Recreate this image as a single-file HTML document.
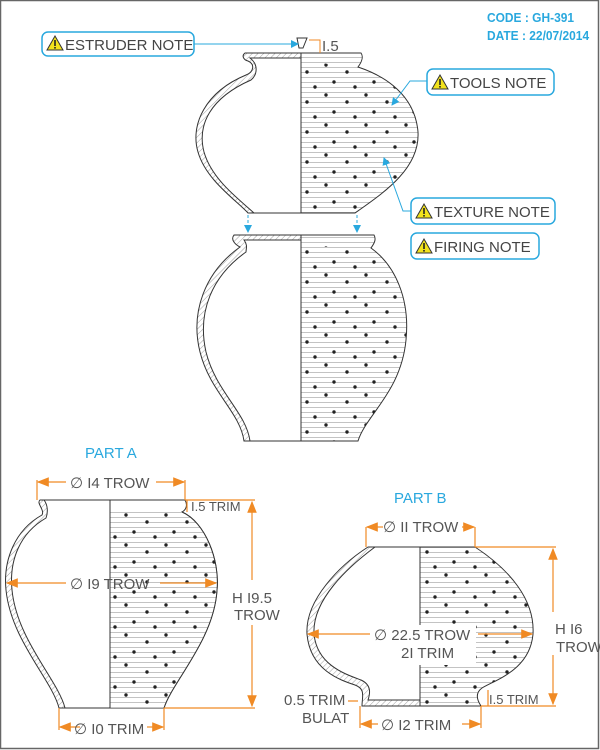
<!DOCTYPE html>
<html><head><meta charset="utf-8"><style>
html,body{margin:0;padding:0;background:#fff}
svg{display:block}
text{font-family:"Liberation Sans",sans-serif}
.dim{fill:#555;font-size:15px}
.note{fill:#444;font-size:15px}
</style></head><body>
<svg width="600" height="750" viewBox="0 0 600 750">
<defs>
<pattern id="hl" width="12" height="5" patternUnits="userSpaceOnUse"><rect width="12" height="5" fill="#fff"/><line x1="0" y1="2.5" x2="12" y2="2.5" stroke="#aaa" stroke-width="0.7"/></pattern>
<pattern id="dots" width="40" height="30" patternUnits="userSpaceOnUse"><circle cx="6" cy="5" r="1.7" fill="#222"/><circle cx="27" cy="12" r="1.7" fill="#222"/><circle cx="14" cy="22" r="1.7" fill="#222"/><circle cx="35" cy="27" r="1.7" fill="#222"/></pattern>
<pattern id="wh" width="4" height="4" patternUnits="userSpaceOnUse" patternTransform="rotate(45)"><rect width="4" height="4" fill="#fff"/><line x1="0" y1="0" x2="0" y2="4" stroke="#888" stroke-width="0.8"/></pattern>
<marker id="ab" markerWidth="8" markerHeight="8" refX="7" refY="4" orient="auto"><path d="M0,0L8,4L0,8z" fill="#29a8de"/></marker>
<marker id="ao" markerWidth="10" markerHeight="8" refX="9" refY="4" orient="auto"><path d="M0,0L10,4L0,8z" fill="#f08a24"/></marker>
<g id="warn"><path d="M0,14L8,0L16,14z" fill="#f2e21c" stroke="#333" stroke-width="1"/><rect x="7.2" y="4" width="1.6" height="6" fill="#222"/><rect x="7.2" y="11" width="1.6" height="1.6" fill="#222"/></g>
</defs>
<rect x="0.5" y="0.5" width="598" height="748" fill="#fff" stroke="#666" stroke-width="1.5"/>
<text x="487" y="22" fill="#29a8de" font-size="13" font-weight="bold" transform="translate(487 0) scale(0.92 1) translate(-487 0)">CODE : GH-391</text>
<text x="487" y="40" fill="#29a8de" font-size="13" font-weight="bold" transform="translate(487 0) scale(0.92 1) translate(-487 0)">DATE : 22/07/2014</text>

<g stroke="#333" stroke-width="1">
<path d="M301,53 L245,53 C241,56 244,60 248,61 C255,64 254,72 246,75 C205,92 190,125 198,152 C206,180 236,200 248,213 L301,213 Z" fill="url(#wh)"/>
<path d="M301,58 L250,58 C258,64 258,74 251,80 C210,98 197,125 204,152 C212,180 240,200 254,213 L301,213 Z" fill="#fff"/>
<path d="M301,53 L361,53 C364,57 361,63 358,67 C385,76 415,95 418,132 C420,168 385,192 355,213 L301,213 Z" fill="url(#hl)"/>
<path d="M301,60 L356,68 C385,76 415,95 418,132 C420,168 385,192 355,213 L301,213 Z" fill="url(#dots)" stroke="none"/>
<line x1="301" y1="53" x2="301" y2="213"/>
<line x1="248" y1="213" x2="355" y2="213"/>
</g>
<g stroke="#333" stroke-width="1">
<path d="M301,235 L234,235 C230,240 236,245 240,247 C205,272 190,312 200,352 C210,392 240,412 244,441 L301,441 Z" fill="url(#wh)"/>
<path d="M301,240 L244,240 C248,245 246,249 246,252 C212,276 197,312 206,352 C216,392 246,412 250,441 L301,441 Z" fill="#fff"/>
<path d="M301,235 L374,235 C377,240 373,245 371,248 C396,266 410,300 406,340 C401,392 366,415 358,441 L301,441 Z" fill="url(#hl)"/>
<path d="M301,245 L371,248 C396,266 410,300 406,340 C401,392 366,415 358,441 L301,441 Z" fill="url(#dots)" stroke="none"/>
<line x1="301" y1="235" x2="301" y2="441"/>
</g>
<line x1="248" y1="215" x2="248" y2="232" stroke="#29a8de" stroke-dasharray="3,2" marker-end="url(#ab)"/>
<line x1="357" y1="215" x2="357" y2="232" stroke="#29a8de" stroke-dasharray="3,2" marker-end="url(#ab)"/>
<path d="M303,48 L307,38 L297,38 L299,48 Z" fill="#fff" stroke="#333"/>
<path d="M309,40 L320,40 L320,53" fill="none" stroke="#f08a24"/>
<text x="322" y="51" class="dim">I.5</text>

<g>
<rect x="42" y="32" width="152" height="24" rx="6" fill="#fff" stroke="#29a8de" stroke-width="1.5"/>
<use href="#warn" x="47" y="36"/><text x="65" y="50" class="note">ESTRUDER NOTE</text>
</g>
<path d="M194,44 L298,44" stroke="#29a8de" fill="none" marker-end="url(#ab)"/>
<g>
<rect x="427" y="69" width="127" height="26" rx="6" fill="#fff" stroke="#29a8de" stroke-width="1.5"/>
<use href="#warn" x="432" y="75"/><text x="450" y="88" class="note">TOOLS NOTE</text>
</g>
<path d="M427,81 L410,81 L392,105" stroke="#29a8de" fill="none" marker-end="url(#ab)"/>
<g>
<rect x="411" y="198" width="144" height="26" rx="6" fill="#fff" stroke="#29a8de" stroke-width="1.5"/>
<use href="#warn" x="416" y="204"/><text x="434" y="217" class="note">TEXTURE NOTE</text>
</g>
<path d="M411,211 L403,211 L384,158" stroke="#29a8de" fill="none" marker-end="url(#ab)"/>
<g>
<rect x="411" y="233" width="128" height="26" rx="6" fill="#fff" stroke="#29a8de" stroke-width="1.5"/>
<use href="#warn" x="416" y="239"/><text x="434" y="252" class="note">FIRING NOTE</text>
</g>

<text x="85" y="458" fill="#29a8de" font-size="15">PART A</text>
<g stroke="#333" stroke-width="1">
<path d="M110,500 L40,500 C36,503 45,510 42,515 C15,530 3,560 6,590 C11,640 52,680 59,708 L110,708 Z" fill="url(#wh)"/>
<path d="M110,500 L44,500 C48,505 48,513 46,518 C20,533 9,560 12,590 C17,640 58,680 65,708 L110,708 Z" fill="#fff"/>
<path d="M110,500 L185,500 C188,505 186,510 182,512 C205,522 220,560 217,590 C214,640 172,682 164,708 L110,708 Z" fill="#fff"/>
<path d="M110,512 L182,512 C205,522 220,560 217,590 C214,640 172,682 164,708 L110,708 Z" fill="url(#hl)" stroke="none"/>
<path d="M110,512 L182,512 C205,522 220,560 217,590 C214,640 172,682 164,708 L110,708 Z" fill="url(#dots)" stroke="none"/>
<path d="M182,512 C205,522 220,560 217,590 C214,640 172,682 164,708" fill="none"/>
<line x1="110" y1="500" x2="110" y2="708"/>
</g>
<g stroke="#f08a24" stroke-width="1.2" fill="none">
<path d="M37,500 L37,480 M185,500 L185,480"/>
<line x1="66" y1="482" x2="38" y2="482" marker-end="url(#ao)"/><line x1="156" y1="482" x2="184" y2="482" marker-end="url(#ao)"/>
<line x1="66" y1="583" x2="7" y2="583" marker-end="url(#ao)"/><line x1="160" y1="583" x2="216" y2="583" marker-end="url(#ao)"/>
<path d="M59,708 L59,730 M164,708 L164,730 M164,708 L255,708 M185,500 L255,500 M187,500 L187,512"/>
<line x1="80" y1="727" x2="60" y2="727" marker-end="url(#ao)"/><line x1="147" y1="727" x2="163" y2="727" marker-end="url(#ao)"/>
<line x1="252" y1="580" x2="252" y2="502" marker-end="url(#ao)"/><line x1="252" y1="625" x2="252" y2="706" marker-end="url(#ao)"/>
</g>
<text x="70" y="488" class="dim">∅ I4 TROW</text>
<text x="191" y="511" fill="#555" font-size="13">I.5 TRIM</text>
<text x="70" y="589" class="dim">∅ I9 TROW</text>
<text x="232" y="603" class="dim">H I9.5</text>
<text x="234" y="620" class="dim">TROW</text>
<text x="74" y="734" class="dim">∅ I0 TRIM</text>

<text x="394" y="503" fill="#29a8de" font-size="15">PART B</text>
<g stroke="#333" stroke-width="1">
<path d="M420,547 L368,547 C340,565 305,600 307,634 C310,670 340,680 355,685 C366,689 362,697 362,706 L420,706 Z" fill="url(#wh)"/>
<path d="M420,547 L375,547 C348,567 312,600 314,634 C317,665 345,674 361,680 C372,685 370,694 368,700 L420,700 Z" fill="#fff"/>
<path d="M420,547 L475,547 C510,570 535,600 533,634 C530,670 495,680 482,688 C475,693 477,700 481,706 L420,706 Z" fill="url(#hl)"/>
<path d="M420,550 L475,547 C510,570 535,600 533,634 C530,670 495,680 482,688 C475,693 477,700 481,706 L420,706 Z" fill="url(#dots)" stroke="none"/>
<line x1="420" y1="547" x2="420" y2="706"/>
</g>
<rect x="376" y="625" width="100" height="40" fill="#fff"/>
<g stroke="#f08a24" stroke-width="1.2" fill="none">
<path d="M366,547 L366,527 M475,547 L475,527 M475,547 L556,547 M481,706 L556,706 M488,690 L488,706"/>
<line x1="383" y1="527" x2="367" y2="527" marker-end="url(#ao)"/><line x1="462" y1="527" x2="474" y2="527" marker-end="url(#ao)"/>
<line x1="370" y1="634" x2="308" y2="634" marker-end="url(#ao)"/><line x1="478" y1="634" x2="532" y2="634" marker-end="url(#ao)"/>
<line x1="553" y1="612" x2="553" y2="549" marker-end="url(#ao)"/><line x1="553" y1="655" x2="553" y2="704" marker-end="url(#ao)"/>
<path d="M360,706 L360,728 M481,706 L481,728 M348,701 L358,701"/>
<line x1="378" y1="724" x2="361" y2="724" marker-end="url(#ao)"/><line x1="462" y1="724" x2="480" y2="724" marker-end="url(#ao)"/>
</g>
<text x="383" y="532" class="dim">∅ II TROW</text>
<text x="374" y="640" class="dim">∅ 22.5 TROW</text>
<text x="401" y="658" class="dim">2I TRIM</text>
<text x="555" y="634" class="dim">H I6</text>
<text x="556" y="652" class="dim">TROW</text>
<text x="489" y="704" fill="#555" font-size="13">I.5 TRIM</text>
<text x="284" y="705" class="dim">0.5 TRIM</text>
<text x="302" y="723" class="dim">BULAT</text>
<text x="381" y="730" class="dim">∅ I2 TRIM</text>
</svg>
</body></html>
